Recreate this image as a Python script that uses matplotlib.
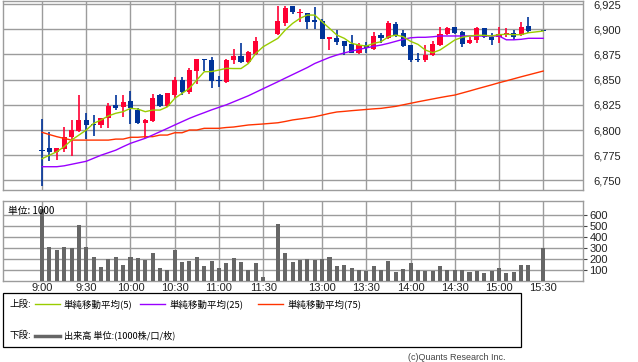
import matplotlib
matplotlib.use("Agg")
import matplotlib.pyplot as plt
from matplotlib.patches import Rectangle
import numpy as np

# 5-minute slots (lunch break compressed: 11:30 -> slot 30, 12:30 -> slot 32)
slots = list(range(0, 31)) + list(range(32, 67)) + [68]

opens = [6780.5, 6782, 6778, 6781, 6793, 6799, 6810, 6806, 6805, 6812,
         6824.5, 6823, 6829, 6820, 6807, 6809, 6835, 6824, 6835, 6850,
         6838, 6859, 6870, 6869, 6849, 6848, 6869.5, 6873.5, 6867, 6875.5,
         6891,
         6895, 6906.5, 6923, 6916, 6916, 6909, 6908, 6890.5, 6891.5, 6888.5,
         6885.5, 6876.5, 6884.5, 6880.5, 6894, 6891.5, 6905, 6896, 6884.5, 6870,
         6869.5, 6874.5, 6884.5, 6895, 6902, 6897, 6886, 6889.5, 6901, 6892.5,
         6892, 6894, 6896.5, 6894, 6903,
         6898.3]
highs = [6811, 6798, 6782, 6803, 6810, 6835, 6817, 6815, 6812, 6827,
         6835, 6835, 6839, 6822, 6811, 6836, 6835.5, 6837, 6853, 6853,
         6862, 6870.5, 6870.2, 6872, 6853.5, 6870, 6880, 6886.5, 6878.5, 6892.5,
         6891.2,
         6923, 6923, 6923, 6920.5, 6916.2, 6922, 6910, 6892.5, 6899, 6888.5,
         6894, 6886, 6887.5, 6897, 6896, 6908, 6907.5, 6899, 6884.5, 6876,
         6884.5, 6888.5, 6902.5, 6902, 6902.5, 6898, 6892.5, 6902.5, 6901.2, 6896,
         6902, 6901, 6899, 6907.5, 6912.5,
         6898.3]
lows = [6744, 6769, 6770, 6778, 6774, 6798, 6791, 6794, 6802, 6802,
        6820, 6813, 6806, 6806, 6792, 6808, 6823, 6823, 6832, 6835,
        6836, 6846, 6859, 6842, 6843, 6847, 6865.5, 6866, 6866, 6874.5,
        6890.8,
        6894, 6903, 6915, 6907.5, 6900, 6900, 6890, 6879.5, 6884.5, 6874.5,
        6876, 6875.5, 6876.5, 6879.5, 6886.5, 6890.5, 6892.5, 6882.5, 6867, 6867,
        6867.5, 6873.5, 6883.5, 6894, 6895, 6882.5, 6885.5, 6886, 6891, 6884.5,
        6886.5, 6892, 6889.5, 6893.5, 6896,
        6898.2]
closes = [6779.5, 6778, 6782, 6793, 6800, 6810, 6805, 6805, 6812, 6824,
          6822, 6828, 6822, 6807, 6810, 6832, 6824, 6836.5, 6850, 6838,
          6860, 6870.5, 6869.8, 6849, 6848.5, 6869.5, 6873, 6867.5, 6877.5, 6888.5,
          6890.8,
          6908, 6921.5, 6917.5, 6917.5, 6907.5, 6907, 6890.5, 6892.5, 6887.5, 6883.5,
          6876.5, 6884.5, 6881.5, 6893.5, 6891.5, 6906.5, 6894, 6883.5, 6869.5, 6869.5,
          6874.5, 6885.5, 6895, 6901, 6896, 6885, 6889.5, 6901, 6892.5, 6889.5,
          6895, 6896.5, 6892.5, 6902, 6898.5,
          6898.2]

ma5 = [6771.6, 6775, 6778.5, 6783.4, 6790, 6795, 6800, 6806.6, 6810, 6814,
       6816.6, 6818.2, 6821.5, 6820.8, 6818.2, 6819.8, 6819.8, 6823, 6831.4, 6836.4,
       6841.4, 6849.6, 6857.8, 6858, 6859.5, 6861.2, 6861, 6861, 6866, 6876,
       6882.6,
       6891, 6899.2, 6905.8, 6910.8, 6914.1, 6914, 6907.4, 6900.9, 6894.2, 6891,
       6886, 6884.3, 6883.3, 6886, 6887.6, 6892.6, 6894.2, 6892.6, 6888, 6885,
       6879.4, 6876.7, 6879.4, 6884.3, 6889.3, 6892, 6893.3, 6894, 6894, 6893.3,
       6894.6, 6895, 6894.6, 6894.6, 6896.5,
       6898.2]
ma25 = [6763.6, 6763.6, 6763.6, 6764.5, 6766, 6767.5, 6769, 6772, 6775, 6777.5,
        6780, 6783.5, 6786.8, 6789.3, 6791.8, 6795, 6798.3, 6801.6, 6805, 6808.3,
        6811.6, 6814.5, 6817.2, 6820, 6822.5, 6825, 6828, 6831, 6834, 6837.5,
        6841,
        6847.9, 6851.5, 6855, 6858.5, 6862, 6866, 6869, 6872, 6874.4, 6876.5,
        6878.3, 6880, 6881.5, 6883, 6884.3, 6886, 6888, 6890, 6891.5, 6892,
        6892, 6892.5, 6893.3, 6893.3, 6893.3, 6893.3, 6893.3, 6893.3, 6893.3, 6893.3,
        6893.3, 6889.5, 6889.5, 6890, 6891,
        6891]
ma75 = [6797.7, 6795.5, 6793.4, 6791.7, 6790, 6790, 6790, 6790, 6790, 6790,
        6791, 6791, 6792.8, 6792.8, 6793.4, 6793.4, 6795, 6795, 6797.3, 6797.3,
        6800, 6800, 6801.7, 6801.7, 6801.7, 6802.5, 6803, 6804, 6805, 6805.5,
        6806,
        6807.2, 6808.5, 6810, 6811, 6812, 6813.2, 6814.8, 6816.5, 6817.9, 6818.5,
        6819.2, 6819.8, 6820.4, 6821, 6821.5, 6822.5, 6823.5, 6825, 6826.5, 6828,
        6829.4, 6830.8, 6832.2, 6833.5, 6834.7, 6836.7, 6838.7, 6840.8, 6842.8, 6844.8,
        6846.9, 6848.8, 6850.8, 6852.8, 6854.7,
        6858.5]

volume = [650, 307, 277, 307, 298, 505, 307, 216, 125, 195,
          216, 141, 216, 207, 186, 253, 116, 95, 277, 171,
          177, 216, 135, 177, 116, 156, 207, 171, 95, 162,
          35,
          514, 253, 171, 186, 195, 190, 193, 216, 132, 141,
          116, 95, 86, 132, 95, 177, 80, 105, 156, 92,
          86, 86, 132, 92, 92, 92, 80, 86, 71, 86,
          116, 69, 80, 141, 141,
          292]

tick_slots = [0, 6, 12, 18, 24, 30, 38, 44, 50, 56, 62, 68]
tick_labels = ["9:00", "9:30", "10:00", "10:30", "11:00", "11:30",
               "13:00", "13:30", "14:00", "14:30", "15:00", "15:30"]
price_ticks = [6750, 6775, 6800, 6825, 6850, 6875, 6900, 6925]
vol_ticks = [100, 200, 300, 400, 500, 600]

W, H = 638, 362
JP = ["Noto Sans CJK JP", "DejaVu Sans"]
NUM = "Liberation Sans"
GRID = "#9c9c9c"
UP, DOWN = "#ff0033", "#003399"


def fr(x0, y0, x1, y1):
    """pixel box (top-left origin) -> figure-fraction rect"""
    return [x0 / W, 1 - y1 / H, (x1 - x0) / W, (y1 - y0) / H]


fig = plt.figure(figsize=(W / 100, H / 100), dpi=100)
ax = fig.add_axes(fr(3, 1, 583, 190))
av = fig.add_axes(fr(3, 201, 583, 280.5))

x = np.array(slots, float)
o, h, l, c = map(np.array, (opens, highs, lows, closes))
col = np.where(c >= o, UP, DOWN)

ax.vlines(x, l, h, colors=col, lw=1.2, zorder=3)
ax.bar(x, np.maximum(np.abs(c - o), 0.9), bottom=np.minimum(o, c), width=0.7,
       color=col, zorder=4)
ax.plot(x, ma75, color="#ff3300", lw=1.0, zorder=5)
ax.plot(x, ma25, color="#9900ff", lw=1.0, zorder=5)
ax.plot(x, ma5, color="#99cc00", lw=1.0, zorder=5)

av.bar(x, volume, width=0.55, color="#666666", zorder=3)

xlim = (-5.3, 73.4)
for a in (ax, av):
    a.set_xlim(*xlim)
    a.set_xticks(tick_slots)
    a.grid(True, color=GRID, lw=1.0)
    a.set_axisbelow(True)
    for s in a.spines.values():
        s.set_color(GRID)
        s.set_linewidth(1.0)
    a.yaxis.tick_right()

ax.set_ylim(6740.5, 6928)
ax.set_yticks(price_ticks)
ax.set_yticklabels([f"{v:,}" for v in price_ticks], fontsize=8, family=NUM)
ax.tick_params(axis="y", length=0, pad=7.5, colors="#222222")
ax.tick_params(axis="x", length=0, labelbottom=False)

av.set_ylim(0, 723)
av.set_yticks(vol_ticks)
av.set_yticklabels([str(v) for v in vol_ticks], fontsize=8, family=NUM)
av.tick_params(axis="y", length=3, width=0.8, color="#444444", pad=1.5,
               colors="#222222")
av.set_xticklabels(tick_labels, fontsize=8, family=NUM, color="#222222")
av.tick_params(axis="x", length=0, pad=2)
av.text(5 / 580, 0.94, "単位: 1000", transform=av.transAxes, fontsize=7,
        family=JP, va="top", ha="left", zorder=6)

# legend box
fig.patches.append(Rectangle((2.7 / W, 1 - 346.7 / H), 518 / W, 54 / H,
                             transform=fig.transFigure, fill=False,
                             edgecolor="black", lw=0.9))
row1, row2 = 1 - 304 / H, 1 - 335.7 / H
fig.text(9 / W, row1, "上段:", fontsize=6.8, family=JP, va="center")
fig.text(9 / W, row2, "下段:", fontsize=6.8, family=JP, va="center")
for x0, color, label in [(35, "#99cc00", "単純移動平均(5)"),
                         (140, "#9900ff", "単純移動平均(25)"),
                         (258, "#ff3300", "単純移動平均(75)")]:
    fig.add_artist(plt.Line2D([x0 / W, (x0 + 25) / W], [row1, row1],
                              transform=fig.transFigure, color=color, lw=1.0))
    fig.text((x0 + 29) / W, row1, label, fontsize=6.8, family=JP, va="center")
fig.add_artist(plt.Line2D([35 / W, 60 / W], [row2, row2], transform=fig.transFigure,
                          color="#666666", lw=2.5))
fig.text(64 / W, row2, "出来高 単位:(1000株/口/枚)", fontsize=6.6, family=JP,
         va="center")
fig.text(506 / W, 1 - 357 / H, "(c)Quants Research Inc.", fontsize=6.5,
         family=NUM, color="#444444", ha="right", va="center")

fig.savefig("out.png", dpi=100)
